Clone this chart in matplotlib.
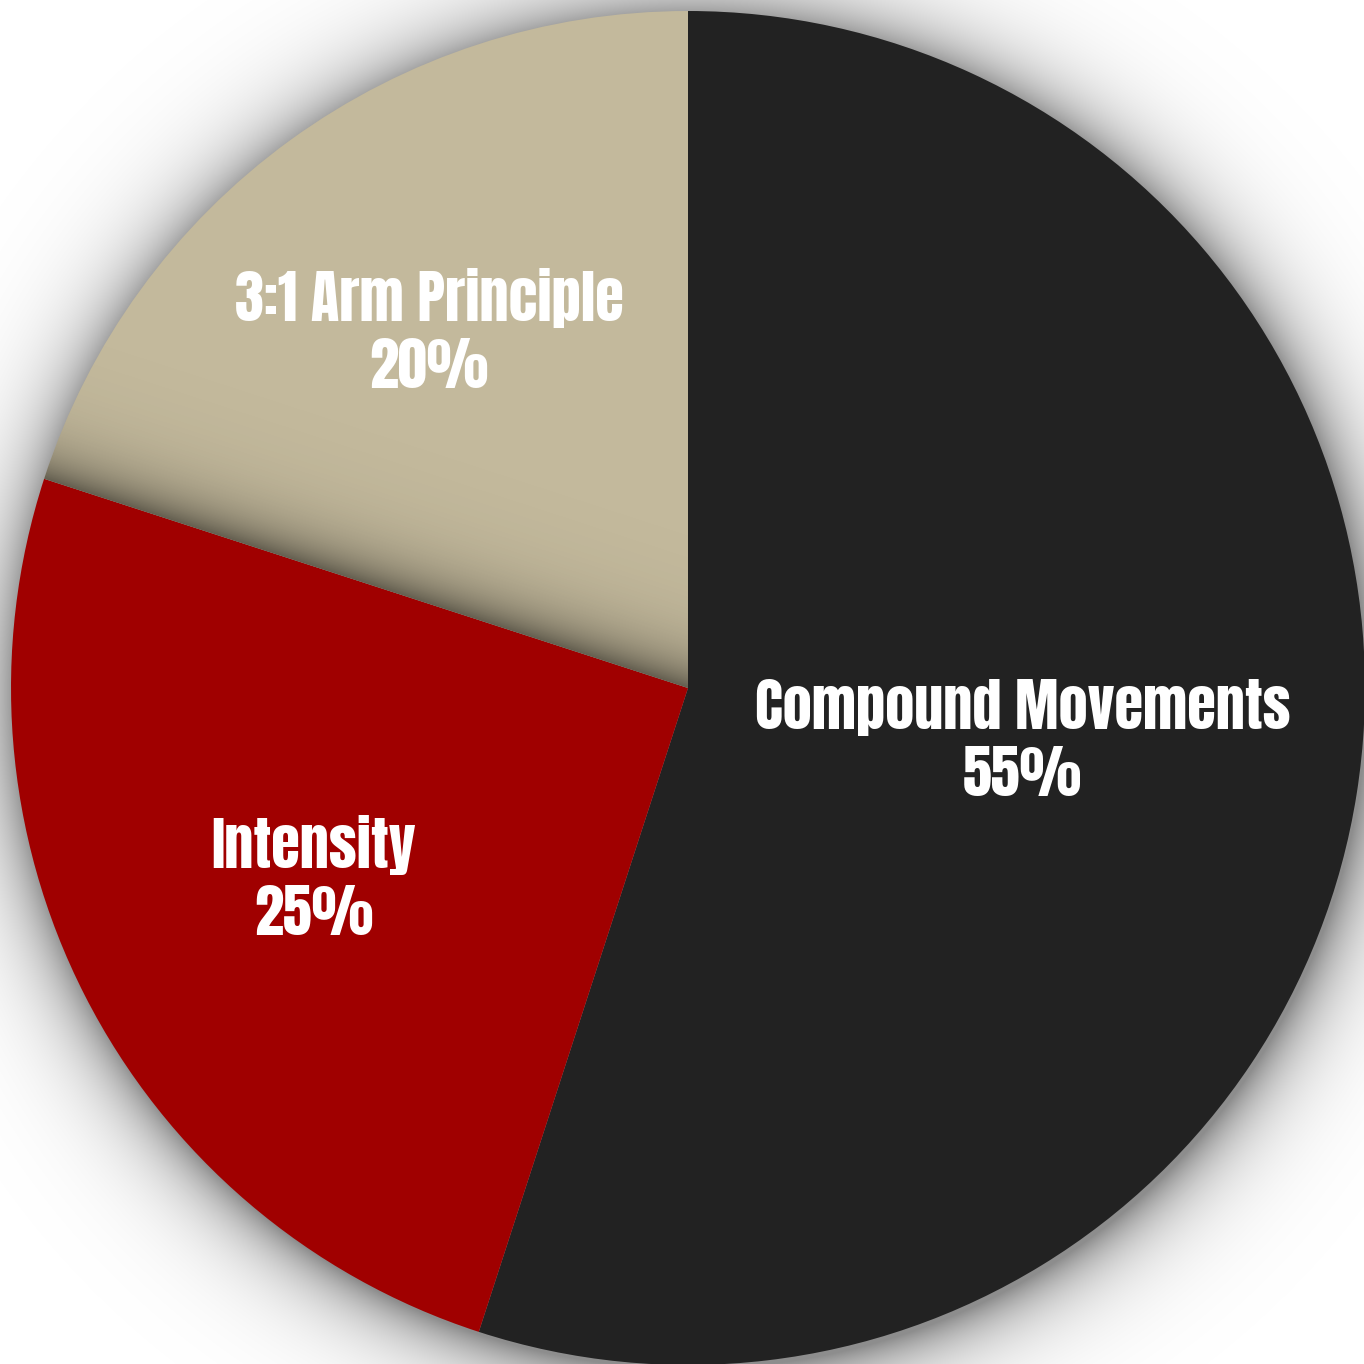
import matplotlib
matplotlib.use("Agg")
import numpy as np
import matplotlib.pyplot as plt
from matplotlib import font_manager as fm

# ---- data ----
categories = ["Compound Movements", "Intensity", "3:1 Arm Principle"]
values = [55, 25, 20]
colors = ["#222222", "#A00000", "#C3B99C"]
label_dist = [0.50, 0.62, 0.65]

W = H = 1364
fig = plt.figure(figsize=(W / 100, H / 100), dpi=100)
fig.patch.set_facecolor("white")
ax = fig.add_axes([0, 0, 1, 1])

cx, cy, R = 688, H - 688, 677

avail = {f.name for f in fm.fontManager.ttflist}
fam = [f for f in ["Anton", "Oswald", "Bebas Neue", "DejaVu Sans"] if f in avail]

# outer drop shadow
yy, xx = np.mgrid[0:H, 0:W]
yy = H - yy  # image row 0 at top
d = np.hypot(xx - (cx + 3), yy - (cy - 5))
sh = np.where(d > R - 10, 0.45 * np.exp(-np.clip(d - R + 2, 0, None) / 36.0), 0.45)
shadow = np.zeros((H, W, 4))
shadow[..., 3] = sh
ax.imshow(shadow, extent=(0, W, 0, H), origin="upper", zorder=0, interpolation="bilinear")

wedges, _ = ax.pie(values, colors=colors, startangle=90, counterclock=False,
                   center=(cx, cy), radius=R, frame=True,
                   wedgeprops=dict(linewidth=0))
for w in wedges:
    w.set_zorder(1)

# inner shadow cast on the beige slice by the red slice
beige = wedges[2]
red = wedges[1]
shared = [t for t in (beige.theta1, beige.theta2)
          if np.isclose(t % 360, red.theta1 % 360) or np.isclose(t % 360, red.theta2 % 360)][0]
th = np.deg2rad(shared)
nx, ny = -np.sin(th), np.cos(th)
bm = np.deg2rad((beige.theta1 + beige.theta2) / 2)
if np.cos(bm) * nx + np.sin(bm) * ny < 0:
    nx, ny = -nx, -ny
dist = (xx - cx) * nx + (yy - cy) * ny
inner = np.zeros((H, W, 4))
inner[..., 3] = np.where(dist > -2, 0.50 * np.exp(-np.clip(dist, 0, None) / 30.0), 0)
im = ax.imshow(inner, extent=(0, W, 0, H), origin="upper", zorder=2, interpolation="bilinear")
im.set_clip_path(beige)

# labels
for w, name, v, ld in zip(wedges, categories, values, label_dist):
    mid = np.deg2rad((w.theta1 + w.theta2) / 2)
    x = cx + ld * R * np.cos(mid)
    y = cy + ld * R * np.sin(mid)
    ax.text(x, y, f"{name}\n{v}%", ha="center", va="center", color="white",
            fontsize=42, family=fam, linespacing=1.2, zorder=5, multialignment="center")

ax.set_xlim(0, W)
ax.set_ylim(0, H)
ax.set_aspect("equal")
ax.axis("off")
fig.savefig("out.png", dpi=100, facecolor="white")
